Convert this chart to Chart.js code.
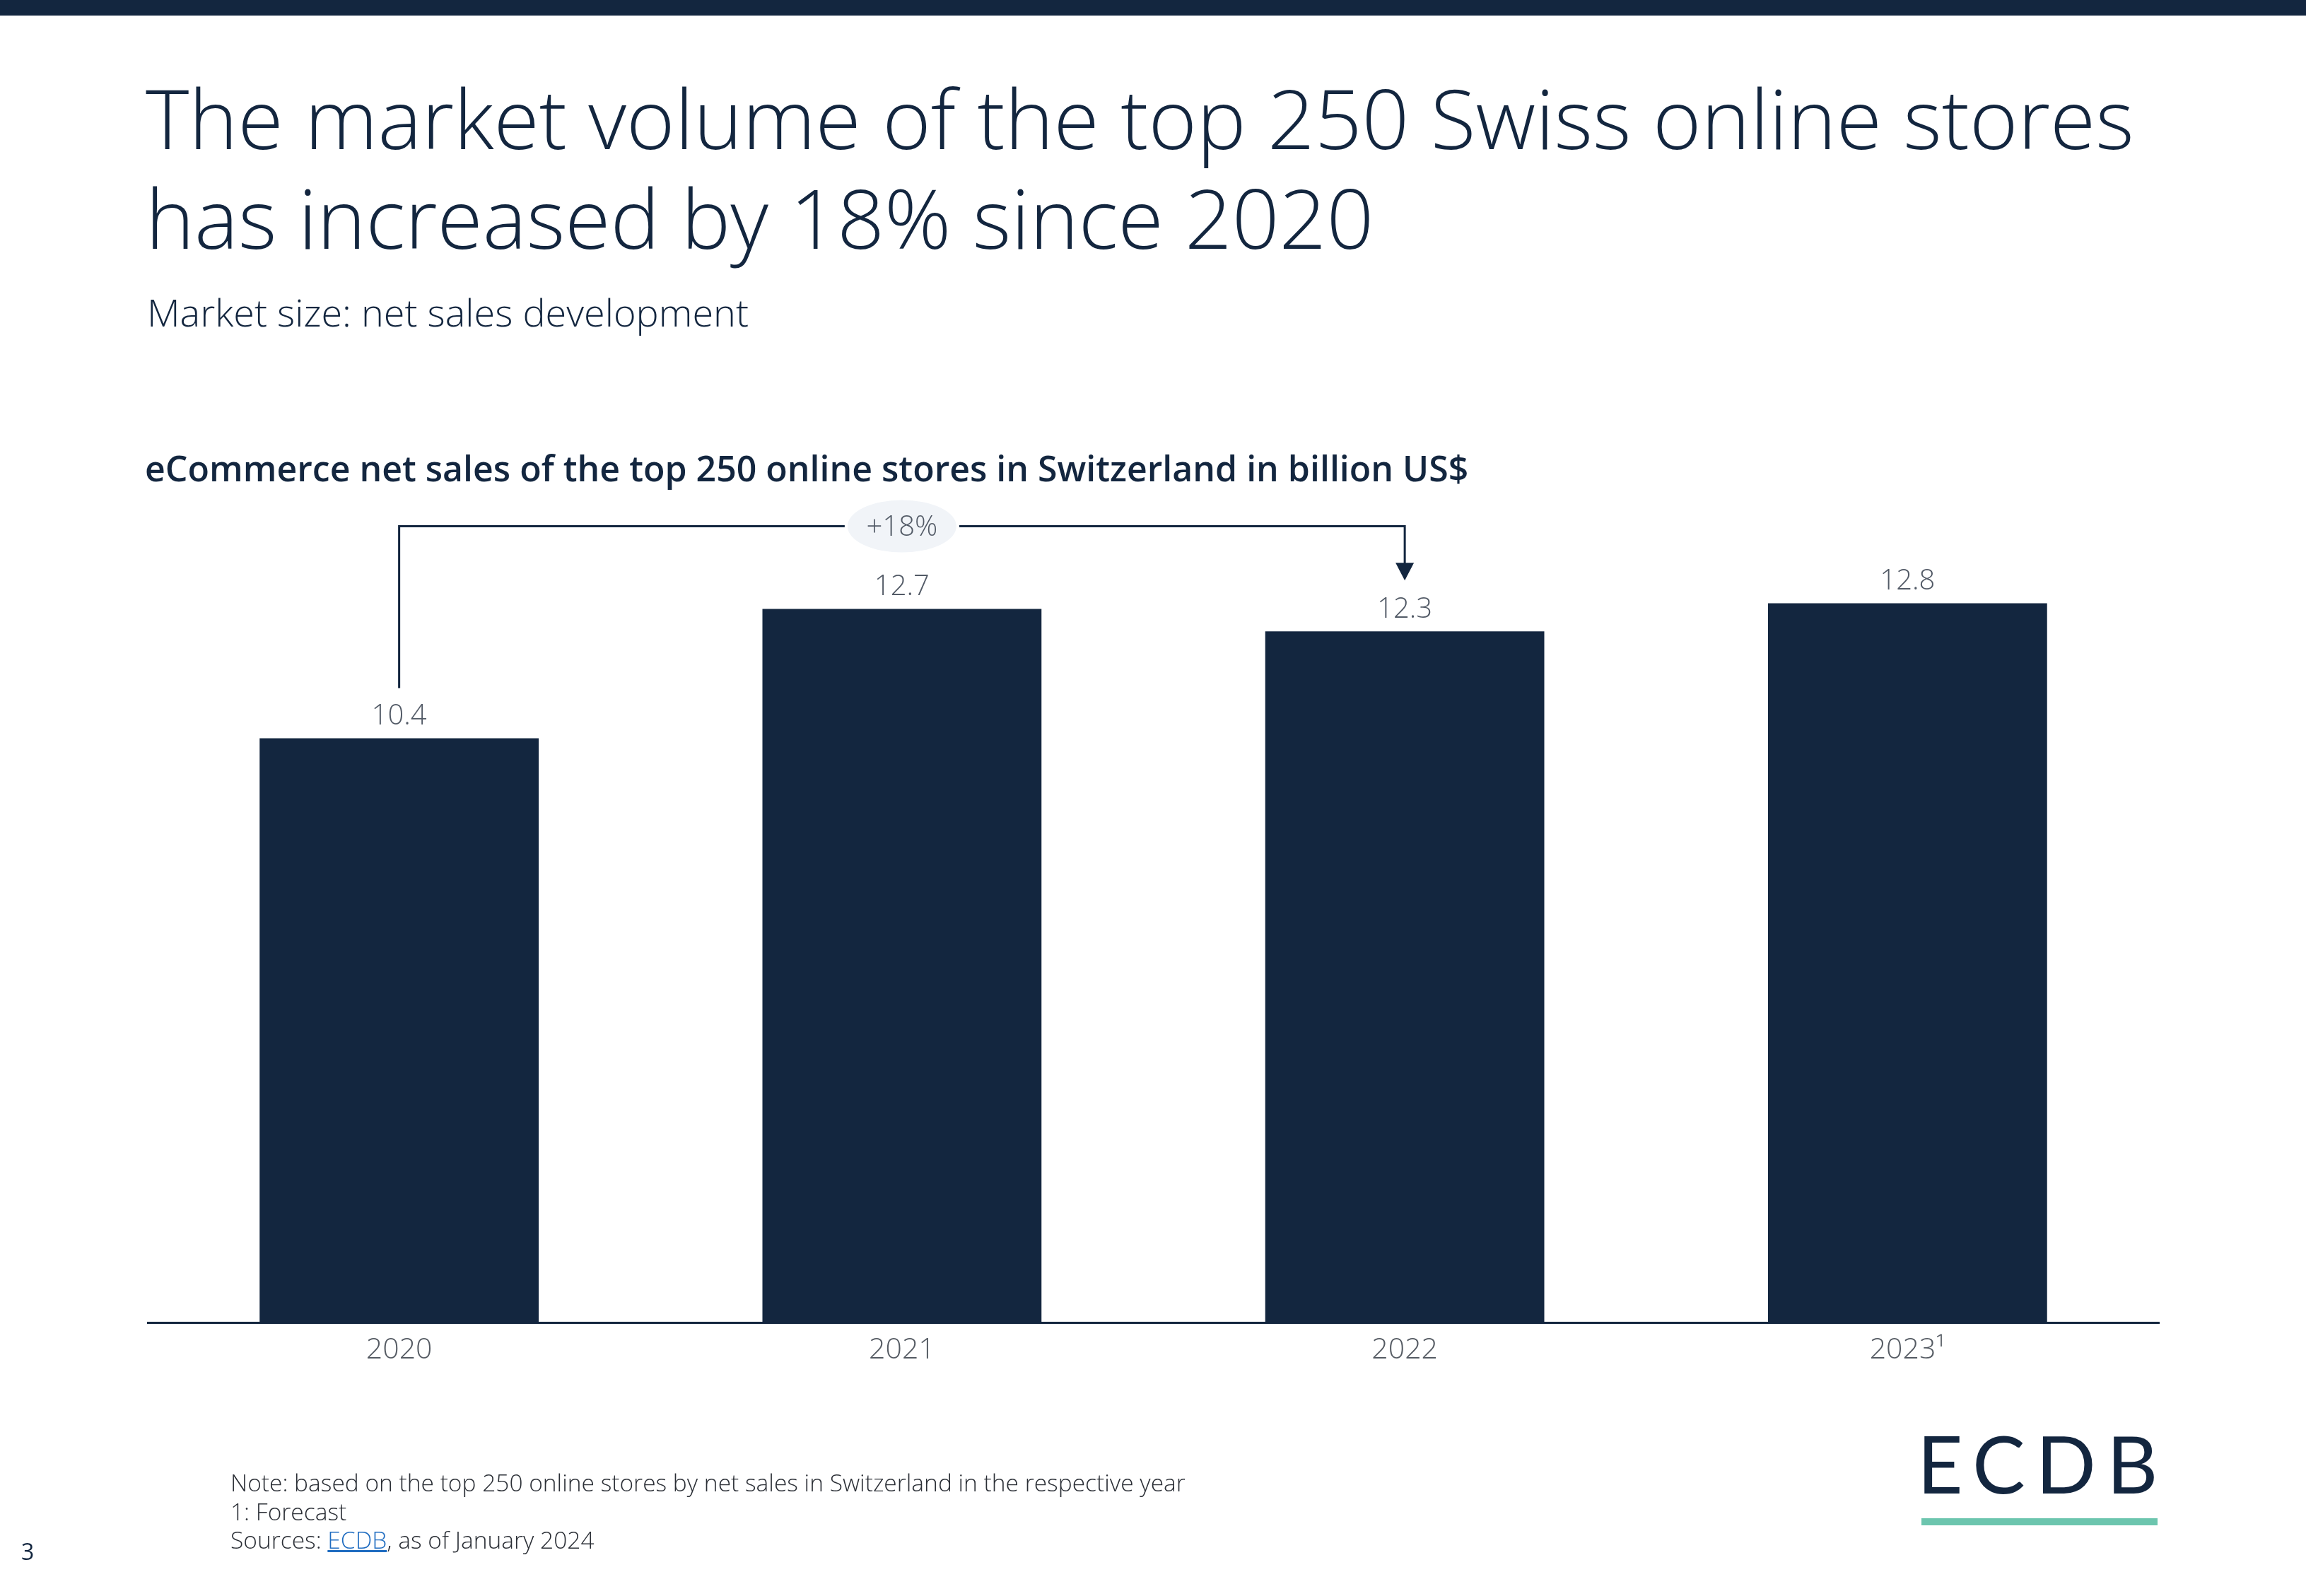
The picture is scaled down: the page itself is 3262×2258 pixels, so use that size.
<!DOCTYPE html>
<html>
<head>
<meta charset="utf-8">
<script src="https://cdn.jsdelivr.net/npm/chart.js@4/dist/chart.umd.min.js"></script>
<style>
html,body{margin:0;padding:0;background:#ffffff;}
body{width:3262px;height:2258px;position:relative;overflow:hidden;font-family:'Open Sans',sans-serif;color:#13263f;}
#topbar{position:absolute;left:0;top:0;width:3262px;height:22px;background:#13263f;}
#title{position:absolute;left:206px;top:95px;font-size:117px;line-height:141px;font-weight:300;color:#13263f;white-space:nowrap;}
#subtitle{position:absolute;left:208px;top:414px;font-size:54px;line-height:54px;font-weight:300;color:#13263f;white-space:nowrap;}
#charttitle{position:absolute;left:205px;top:637px;font-size:50px;line-height:50px;font-weight:600;color:#13263f;white-space:nowrap;}
#chartWrap{position:absolute;left:0;top:0;width:3262px;height:2258px;}
#notes{position:absolute;left:326px;top:2077px;font-size:33.5px;line-height:40.5px;font-weight:300;color:#2b2f36;white-space:nowrap;}
#notes a{color:#1f6cc0;text-decoration:underline;}
#page{position:absolute;left:30px;top:2175px;font-size:32px;line-height:40.5px;font-weight:400;color:#13263f;}
#logo{position:absolute;left:2712px;top:2014px;font-family:'Lato',sans-serif;font-size:112px;line-height:112px;font-weight:400;color:#13263f;letter-spacing:15px;white-space:nowrap;}
#logoline{position:absolute;left:2718px;top:2148px;width:334px;height:10px;background:#6cc5ae;}
</style>
</head>
<body>
<div id="topbar"></div>
<div id="title">The market volume of the top 250 Swiss online stores<br>has increased by 18% since 2020</div>
<div id="subtitle">Market size: net sales development</div>
<div id="charttitle">eCommerce net sales of the top 250 online stores in Switzerland in billion US$</div>
<div id="chartWrap"><canvas id="chart" width="3262" height="2258"></canvas></div>
<div id="notes">Note: based on the top 250 online stores by net sales in Switzerland in the respective year<br>1: Forecast<br>Sources: <a>ECDB</a>, as of January 2024</div>
<div id="page">3</div>
<div id="logo">ECDB</div>
<div id="logoline"></div>
<script>
const categories = ['2020', '2021', '2022', '2023\u00B9'];
const netSales = [10.4, 12.7, 12.3, 12.8];
const growthLabel = '+18%';
const growthFrom = 0;
const growthTo = 2;

const NAVY = '#13263f';
const LABEL_GRAY = '#525a66';

const annotate = {
  id: 'annotate',
  afterDatasetsDraw(chart) {
    const ctx = chart.ctx;
    const yScale = chart.scales.y;
    const meta = chart.getDatasetMeta(0);
    ctx.save();
    // value labels
    ctx.font = "300 40px 'Open Sans'";
    ctx.fillStyle = LABEL_GRAY;
    ctx.textAlign = 'center';
    ctx.textBaseline = 'alphabetic';
    meta.data.forEach((bar, i) => {
      ctx.fillText(netSales[i].toFixed(1), bar.x, bar.y - 19);
    });
    // growth bracket
    const a = meta.data[growthFrom], b = meta.data[growthTo];
    const yLine = yScale.getPixelForValue(14.17);
    const yA = a.y - 71;
    const yB = b.y - 72;
    const midX = (a.x + b.x) / 2;
    const pillW = 154, pillH = 74;
    ctx.strokeStyle = NAVY;
    ctx.lineWidth = 3;
    ctx.beginPath();
    ctx.moveTo(a.x, yA);
    ctx.lineTo(a.x, yLine);
    ctx.lineTo(midX - pillW / 2 - 4, yLine);
    ctx.moveTo(midX + pillW / 2 + 4, yLine);
    ctx.lineTo(b.x, yLine);
    ctx.lineTo(b.x, yB - 22);
    ctx.stroke();
    ctx.fillStyle = NAVY;
    ctx.beginPath();
    ctx.moveTo(b.x - 13, yB - 25);
    ctx.lineTo(b.x + 13, yB - 25);
    ctx.lineTo(b.x, yB);
    ctx.closePath();
    ctx.fill();
    // pill
    ctx.fillStyle = '#f1f4f8';
    ctx.beginPath();
    ctx.ellipse(midX, yLine, pillW / 2, pillH / 2, 0, 0, Math.PI * 2);
    ctx.fill();
    ctx.fillStyle = LABEL_GRAY;
    ctx.font = "300 40px 'Open Sans'";
    ctx.textBaseline = 'alphabetic';
    ctx.fillText(growthLabel, midX, yLine + 14);
    ctx.restore();
  }
};

new Chart(document.getElementById('chart'), {
  type: 'bar',
  data: {
    labels: categories,
    datasets: [{
      data: netSales,
      backgroundColor: NAVY,
      borderWidth: 0,
      categoryPercentage: 1.0,
      barPercentage: 0.555
    }]
  },
  options: {
    responsive: false,
    animation: false,
    events: [],
    layout: { padding: { left: 209, right: 208, top: 758, bottom: 309 } },
    plugins: { legend: { display: false }, tooltip: { enabled: false }, title: { display: false } },
    scales: {
      x: {
        grid: { display: false, drawTicks: false },
        border: { display: true, color: NAVY, width: 3 },
        ticks: { color: '#555b63', font: { family: 'Open Sans', size: 41, weight: '300' }, padding: 14 }
      },
      y: {
        display: false,
        min: 0,
        max: 14
      }
    }
  },
  plugins: [annotate]
});
</script>
</body>
</html>
